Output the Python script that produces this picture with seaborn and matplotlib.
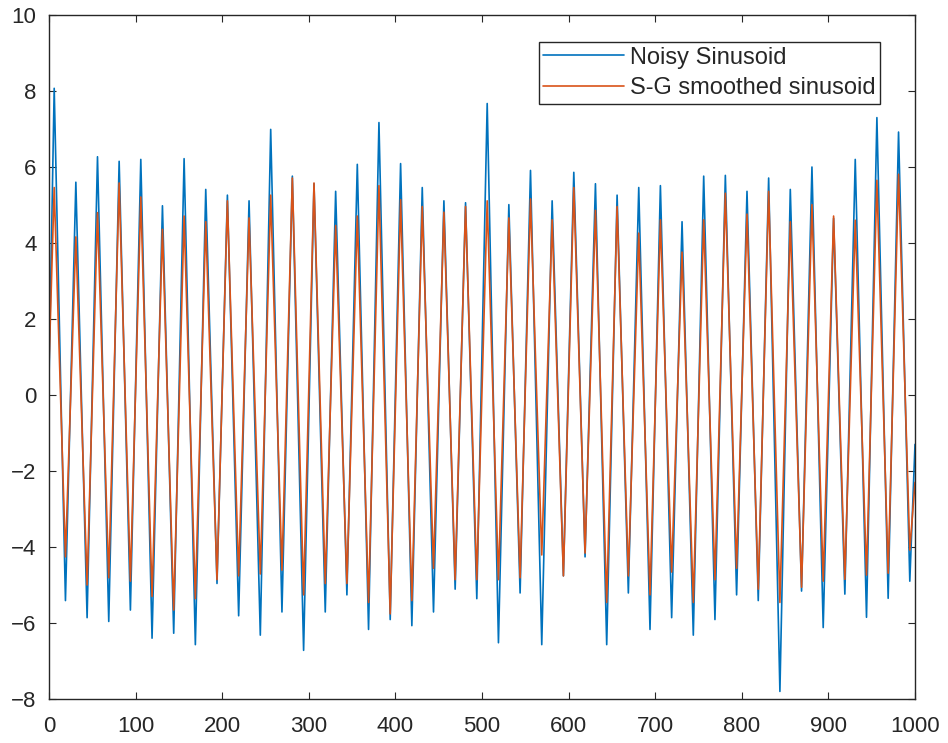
import matplotlib
matplotlib.use("Agg")
import matplotlib.pyplot as plt
import seaborn as sns
import pandas as pd

# ---- data ----
peak_x = [6, 31, 56, 81, 106, 131, 156, 181, 206, 231,
          256, 281, 306, 331, 356, 381, 406, 431, 456, 481,
          506, 531, 556, 581, 606, 631, 656, 681, 706, 731,
          756, 781, 806, 831, 856, 881, 906, 931, 956, 981]
trough_x = [19, 44, 69, 94, 119, 144, 169, 194, 219, 244,
            269, 294, 319, 344, 369, 394, 419, 444, 469, 494,
            519, 544, 569, 594, 619, 644, 669, 694, 719, 744,
            769, 794, 819, 844, 869, 894, 919, 944, 969, 994]

smooth_peaks = [5.46, 4.16, 4.80, 5.58, 5.21, 4.36, 4.71, 4.56, 5.11, 4.66,
                5.26, 5.71, 5.58, 4.46, 4.71, 5.51, 5.14, 4.96, 4.81, 4.96,
                5.11, 4.66, 5.16, 4.61, 5.46, 4.86, 4.96, 4.26, 4.61, 3.76,
                4.61, 5.31, 4.76, 5.36, 4.56, 5.01, 4.71, 4.60, 5.65, 5.81]
smooth_troughs = [-4.26, -5.00, -4.81, -4.90, -5.30, -5.66, -5.36, -4.86, -4.76, -4.71,
                  -4.61, -5.26, -4.96, -4.96, -5.46, -5.76, -5.41, -4.56, -4.86, -4.86,
                  -4.86, -4.81, -4.21, -4.76, -4.16, -5.46, -4.76, -5.26, -4.66, -5.46,
                  -4.86, -4.56, -5.11, -5.46, -5.06, -4.90, -4.85, -4.74, -4.69, -4.08]

noisy_peaks = [8.07, 5.60, 6.27, 6.15, 6.20, 4.98, 6.22, 5.41, 5.26, 5.11,
               6.99, 5.76, 5.56, 5.36, 6.07, 7.17, 6.09, 5.46, 5.11, 5.06,
               7.67, 5.01, 5.91, 5.11, 5.86, 5.56, 5.26, 5.46, 5.51, 4.56,
               5.76, 5.78, 5.36, 5.71, 5.41, 6.00, 4.65, 6.20, 7.30, 6.92]
noisy_troughs = [-5.41, -5.86, -5.96, -5.66, -6.40, -6.27, -6.57, -4.96, -5.81, -6.32,
                 -5.71, -6.72, -5.71, -5.26, -6.17, -5.91, -6.07, -5.71, -5.11, -5.36,
                 -6.52, -5.21, -6.57, -4.76, -4.26, -6.57, -5.21, -6.17, -5.86, -6.32,
                 -5.91, -5.26, -5.41, -7.80, -5.16, -6.12, -5.24, -5.85, -5.35, -4.90]

start_x, end_x = 0, 1000
smooth_start, smooth_end = 0.75, -2.3
noisy_start, noisy_end = 0.4, -1.3

x_ticks = [0, 100, 200, 300, 400, 500, 600, 700, 800, 900, 1000]
y_ticks = [-8, -6, -4, -2, 0, 2, 4, 6, 8, 10]
labels = ["Noisy Sinusoid", "S-G smoothed sinusoid"]


def build(start, peaks, troughs, end):
    xs, ys = [start_x], [start]
    for px, pv, tx, tv in zip(peak_x, peaks, trough_x, troughs):
        xs += [px, tx]
        ys += [pv, tv]
    xs.append(end_x)
    ys.append(end)
    return xs, ys


nx, ny = build(noisy_start, noisy_peaks, noisy_troughs, noisy_end)
sx, sy = build(smooth_start, smooth_peaks, smooth_troughs, smooth_end)
df_noisy = pd.DataFrame({"x": nx, "y": ny})
df_smooth = pd.DataFrame({"x": sx, "y": sy})

# ---- style ----
sns.set_style("ticks")
plt.rcParams["font.family"] = ["Liberation Sans", "DejaVu Sans"]
axcol = "#262626"

fig = plt.figure(figsize=(9.48, 7.43), dpi=100)
ax = fig.add_axes([49 / 948, 1 - 699 / 743, 866 / 948, 684 / 743])

sns.lineplot(data=df_noisy, x="x", y="y", ax=ax, color="#0072BD", lw=1.2,
             estimator=None, sort=False, label=labels[0])
sns.lineplot(data=df_smooth, x="x", y="y", ax=ax, color="#D95319", lw=1.2,
             estimator=None, sort=False, label=labels[1])

ax.set_xlim(0, 1000)
ax.set_ylim(-8, 10)
ax.set_xticks(x_ticks)
ax.set_yticks(y_ticks)
ax.set_xlabel("")
ax.set_ylabel("")
for s in ax.spines.values():
    s.set_visible(True)
    s.set_color(axcol)
    s.set_linewidth(1.0)
ax.tick_params(direction="in", length=5, width=0.8, color=axcol,
               labelcolor=axcol, labelsize=16, top=True, right=True)
ax.tick_params(axis="x", pad=12)
ax.tick_params(axis="y", pad=9)

leg = ax.legend(loc="upper right", bbox_to_anchor=(0.9596, 0.9605),
                fontsize=17, frameon=True, fancybox=False, framealpha=1,
                edgecolor=axcol, handlelength=3.4, handletextpad=0.25,
                borderpad=0.2, labelspacing=0.35, borderaxespad=0)
leg.get_frame().set_linewidth(1.0)
for t in leg.get_texts():
    t.set_color(axcol)

fig.savefig("out.png", dpi=100)
